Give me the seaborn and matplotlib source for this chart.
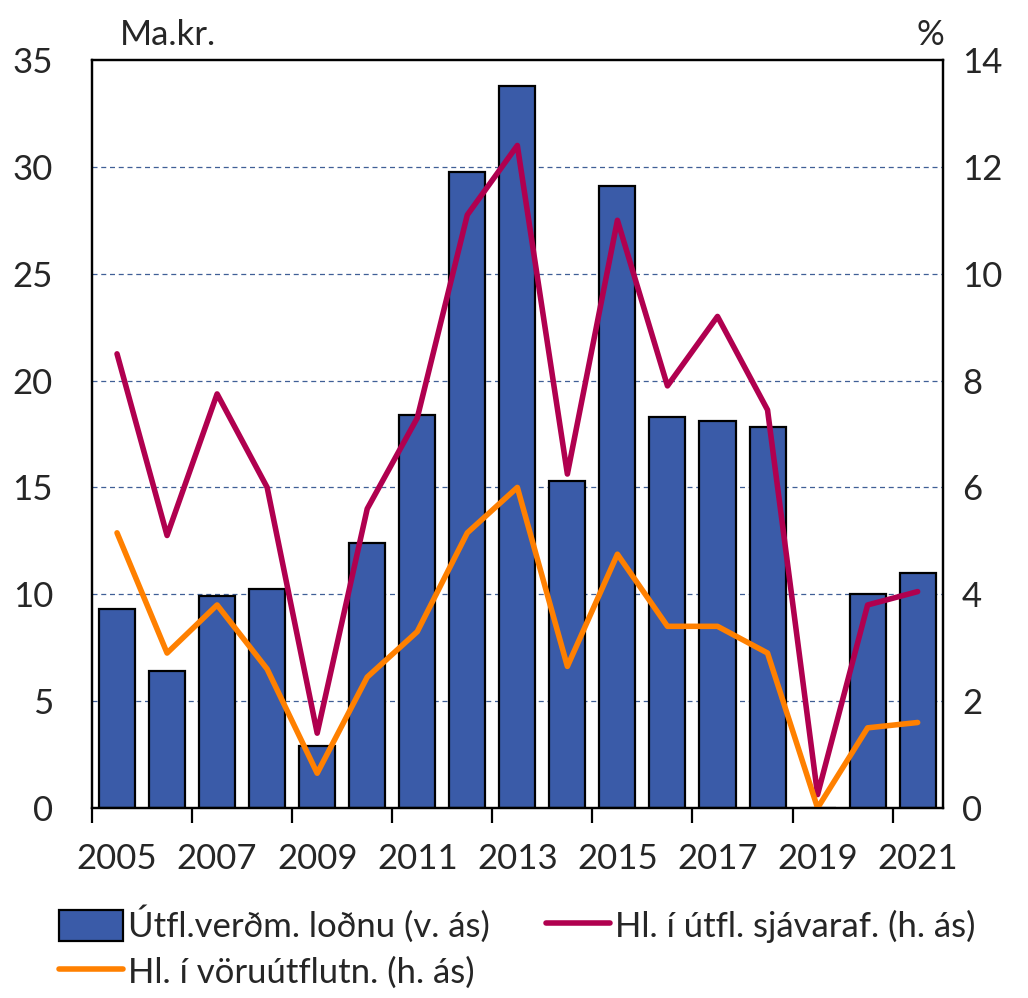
import pandas as pd
import matplotlib.pyplot as plt
import seaborn as sns
from matplotlib.lines import Line2D
from matplotlib.patches import Patch
from matplotlib.ticker import FixedLocator

sns.set_theme(style="white")
plt.rcParams['font.family'] = ['Lato', 'DejaVu Sans']

# Gögn lesin af myndinni
ar = list(range(2005, 2022))
utfl_lodna = [9.3, 6.4, 9.9, 10.25, 2.9, 12.4, 18.4, 29.75, 33.8, 15.3, 29.1,
              18.3, 18.1, 17.85, 0.0, 10.0, 11.0]
hl_sjavaraf = [8.5, 5.1, 7.75, 6.0, 1.4, 5.6, 7.3, 11.1, 12.4, 6.25, 11.0,
               7.9, 9.2, 7.45, 0.25, 3.8, 4.05]
hl_voruutfl = [5.15, 2.9, 3.8, 2.6, 0.65, 2.45, 3.3, 5.15, 6.0, 2.65, 4.75,
               3.4, 3.4, 2.9, 0.0, 1.5, 1.6]

lbl_bar = 'Útfl.verðm. loðnu (v. ás)'
lbl_sjav = 'Hl. í útfl. sjávaraf. (h. ás)'
lbl_voru = 'Hl. í vöruútflutn. (h. ás)'

LITUR_BAR = '#3A5BA8'
LITUR_SJAV = '#B0004F'
LITUR_VORU = '#FF8000'
FS = 25

df = pd.DataFrame({'ar': ar, 'lodna': utfl_lodna, 'sjav': hl_sjavaraf, 'voru': hl_voruutfl})
df['pos'] = range(len(df))

fig = plt.figure(figsize=(10.28, 9.98), dpi=100)
ax = fig.add_axes([0.0895, 0.1904, 0.8275, 0.7495])

sns.barplot(data=df, x='pos', y='lodna', color=LITUR_BAR, edgecolor='black',
            linewidth=1.6, width=0.72, saturation=1, ax=ax)

ax2 = ax.twinx()
sns.lineplot(data=df, x='pos', y='sjav', color=LITUR_SJAV, linewidth=4, ax=ax2)
sns.lineplot(data=df, x='pos', y='voru', color=LITUR_VORU, linewidth=4, ax=ax2)

ax.set_xlim(-0.5, len(df) - 0.5)
ax.set_ylim(0, 35)
ax2.set_ylim(0, 14)
ax.set_yticks(range(0, 36, 5))
ax2.set_yticks(range(0, 15, 2))

# ártöl undir oddatölu-árum, strik á mörkum
ax.set_xticks(df['pos'][::2])
ax.set_xticklabels(df['ar'][::2])
ax.xaxis.set_minor_locator(FixedLocator([p - 0.5 for p in df['pos'][::2]]))
ax.tick_params(axis='x', which='major', length=0, pad=25, labelsize=FS)
ax.tick_params(axis='x', which='minor', bottom=True, length=11, width=1.6, color='black', direction='out')
ax.tick_params(axis='y', length=0, pad=28, labelsize=FS)
ax2.tick_params(axis='y', length=0, pad=14, labelsize=FS)

for y in range(5, 35, 5):
    ax.axhline(y, color='#3F5F96', linestyle=(0, (4, 3)), linewidth=0.9, zorder=0)
ax.set_axisbelow(True)

for a in (ax, ax2):
    a.set_xlabel('')
    a.set_ylabel('')
    for s in a.spines.values():
        s.set_color('black')
        s.set_linewidth(1.6)

fig.text(0.117, 0.965, 'Ma.kr.', fontsize=FS, ha='left', va='center')
fig.text(0.892, 0.965, '%', fontsize=FS, ha='left', va='center')

handles = [Patch(facecolor=LITUR_BAR, edgecolor='black', linewidth=1.6, label=lbl_bar),
           Line2D([], [], color=LITUR_VORU, linewidth=4, label=lbl_voru),
           Line2D([], [], color=LITUR_SJAV, linewidth=4, label=lbl_sjav)]
fig.legend(handles=handles, ncol=2, loc='lower left', bbox_to_anchor=(0.027, -0.022),
           frameon=False, fontsize=FS, handlelength=1.85, handleheight=1.0, handletextpad=0.15,
           columnspacing=1.6, labelspacing=0.35)

fig.savefig('out.png', dpi=100)
